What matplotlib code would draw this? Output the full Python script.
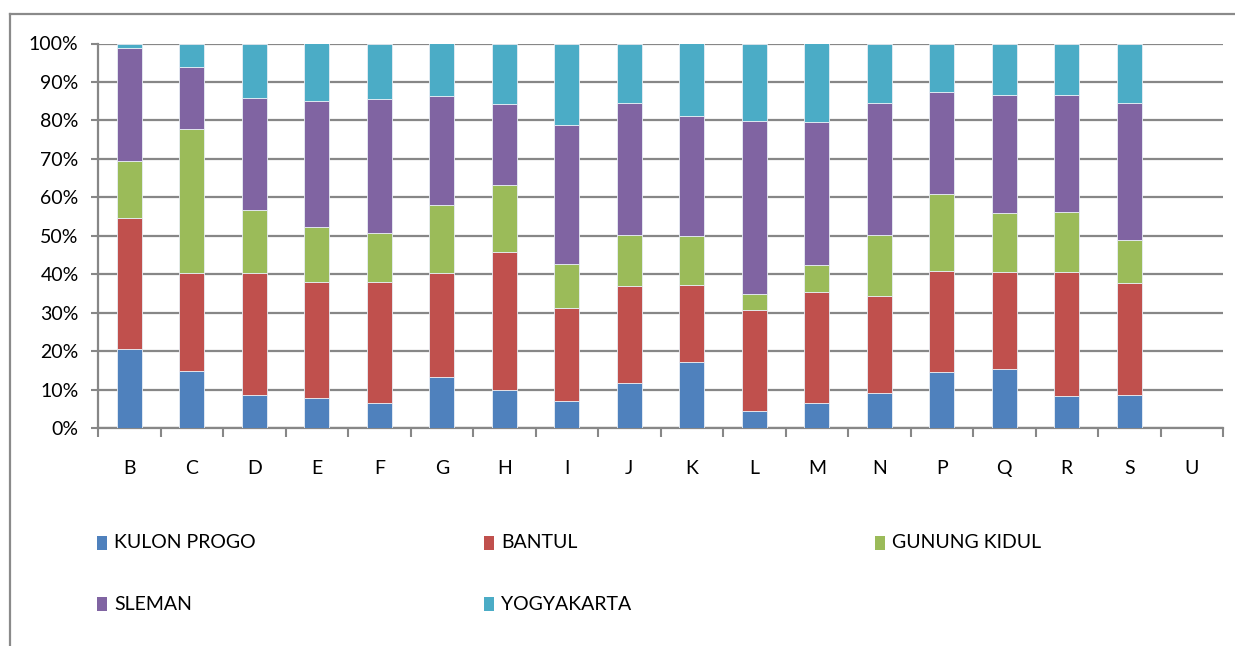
import matplotlib
matplotlib.use("Agg")
import matplotlib.pyplot as plt
from matplotlib.patches import Rectangle
from matplotlib.lines import Line2D
from matplotlib.ticker import FixedLocator
import numpy as np

plt.rcParams['font.family'] = ['Lato', 'DejaVu Sans']

categories = ["B", "C", "D", "E", "F", "G", "H", "I", "J", "K", "L", "M", "N", "P", "Q", "R", "S", "U"]
series_names = ["KULON PROGO", "BANTUL", "GUNUNG KIDUL", "SLEMAN", "YOGYAKARTA"]
kulon_progo = [20.6, 14.9, 8.6, 7.8, 6.6, 13.2, 9.9, 7.0, 11.7, 17.1, 4.3, 6.5, 9.1, 14.5, 15.4, 8.3, 8.6, 0]
bantul = [33.9, 25.4, 31.6, 30.3, 31.5, 27.1, 36.0, 24.3, 25.3, 20.1, 26.4, 28.8, 25.3, 26.4, 25.3, 32.4, 29.1, 0]
gunung_kidul = [14.9, 37.5, 16.5, 14.3, 12.5, 17.8, 17.2, 11.3, 13.2, 12.8, 4.1, 7.0, 15.9, 19.9, 15.3, 15.4, 11.1, 0]
sleman = [29.5, 16.1, 29.2, 32.6, 34.9, 28.3, 21.2, 36.2, 34.4, 31.1, 45.0, 37.2, 34.1, 26.5, 30.7, 30.6, 35.6, 0]
yogyakarta = [1.1, 6.1, 14.1, 15.0, 14.5, 13.6, 15.7, 21.2, 15.4, 18.9, 20.2, 20.5, 15.6, 12.7, 13.3, 13.3, 15.6, 0]
yticks = [0, 10, 20, 30, 40, 50, 60, 70, 80, 90, 100]
ytick_labels = ["0%", "10%", "20%", "30%", "40%", "50%", "60%", "70%", "80%", "90%", "100%"]

colors = ["#4F81BD", "#C0504D", "#9BBB59", "#8064A2", "#4BACC6"]
grid_col = "#878787"

W, H = 1235, 646
fig = plt.figure(figsize=(W / 100, H / 100), dpi=100)
ax = fig.add_axes([98 / W, (H - 428) / H, (1223 - 98) / W, (428 - 43.5) / H])

data = [kulon_progo, bantul, gunung_kidul, sleman, yogyakarta]
x = np.arange(len(categories))
bottom = np.zeros(len(categories))
for vals, col, name in zip(data, colors, series_names):
    v = np.array(vals, dtype=float) / 100.0
    ax.bar(x, v, 0.4, bottom=bottom, color=col, edgecolor="#e8eef5", linewidth=0.6,
           zorder=3, label=name)
    bottom += v

ax.set_xlim(-0.5, len(categories) - 0.5)
ax.set_ylim(0, 1)
ax.set_yticks(np.array(yticks) / 100.0)
ax.set_yticklabels(ytick_labels)
ax.set_xticks(x)
ax.set_xticklabels(categories)
ax.xaxis.set_minor_locator(FixedLocator(np.arange(-0.5, len(categories), 1.0)))

ax.tick_params(axis='y', which='major', length=5, width=1.5, color=grid_col,
               labelsize=14, pad=9, labelcolor="black")
ax.tick_params(axis='x', which='major', length=0, labelsize=14, pad=23, labelcolor="black")
ax.tick_params(axis='x', which='minor', length=6.5, width=1.5, color=grid_col)

ax.grid(axis='y', color=grid_col, linewidth=1.6, zorder=0)
ax.set_axisbelow(True)
for s in ["top", "right"]:
    ax.spines[s].set_visible(False)
for s in ["left", "bottom"]:
    ax.spines[s].set_color(grid_col)
    ax.spines[s].set_linewidth(1.6)

# outer chart border (left and top edges visible)
fig.add_artist(Line2D([10 / W, 10 / W], [0, 1 - 14 / H], transform=fig.transFigure,
                      color="#8a8a8a", linewidth=1.6))
fig.add_artist(Line2D([10 / W, 1.0], [1 - 14 / H, 1 - 14 / H], transform=fig.transFigure,
                      color="#8a8a8a", linewidth=1.6))

# legend, drawn row-major in three columns
col_x = [97, 484, 875]
row_y = [543, 604]
for i, (name, col) in enumerate(zip(series_names, colors)):
    r, c = divmod(i, 3)
    xm, ym = col_x[c], row_y[r]
    fig.add_artist(Rectangle((xm / W, 1 - (ym + 7) / H), 10 / W, 14 / H,
                             transform=fig.transFigure, facecolor=col, edgecolor="none"))
    fig.text((xm + 17) / W, 1 - ym / H, name, fontsize=14, va="center", ha="left")

fig.savefig("out.png", dpi=100)
